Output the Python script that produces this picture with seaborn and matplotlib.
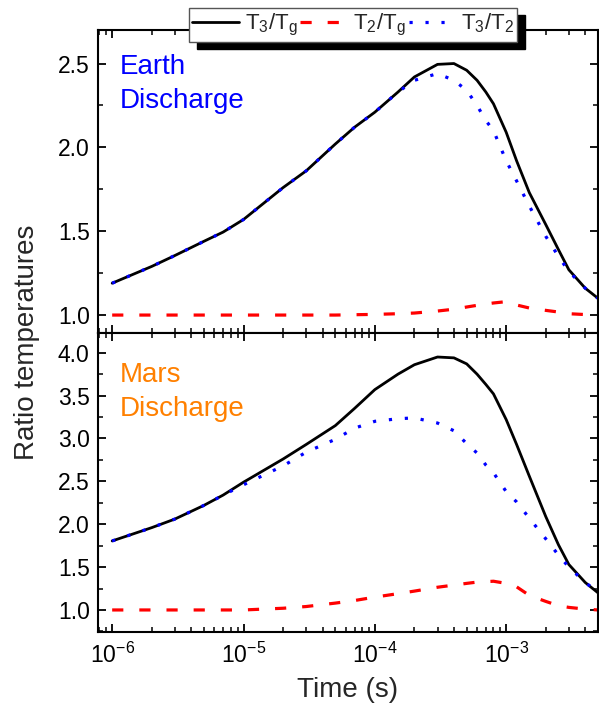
import numpy as np
import pandas as pd
import matplotlib
matplotlib.use('Agg')
import matplotlib.pyplot as plt
import seaborn as sns
from matplotlib.ticker import LogLocator, MultipleLocator, NullFormatter, FormatStrFormatter

# ---------------- data ----------------
time_s = [1e-6, 2e-6, 3e-6, 5e-6, 7e-6, 1e-5, 2e-5, 3e-5, 5e-5, 7e-5,
          1e-4, 1.5e-4, 2e-4, 3e-4, 4e-4, 5e-4, 6e-4, 7e-4, 8e-4, 1e-3,
          1.2e-3, 1.5e-3, 2e-3, 2.5e-3, 3e-3, 4e-3, 5e-3]

earth_t3_tg = [1.19, 1.29, 1.355, 1.44, 1.495, 1.57, 1.76, 1.86, 2.02, 2.12,
               2.21, 2.33, 2.42, 2.495, 2.50, 2.46, 2.40, 2.33, 2.26, 2.09,
               1.92, 1.73, 1.54, 1.39, 1.27, 1.16, 1.10]
earth_t2_tg = [1.0, 1.0, 1.0, 1.0, 1.0, 1.0, 1.0, 1.0, 1.0, 1.002,
               1.004, 1.008, 1.012, 1.024, 1.035, 1.048, 1.058, 1.066, 1.072, 1.08,
               1.06, 1.042, 1.028, 1.018, 1.008, 1.003, 1.0]
earth_t3_t2 = [1.19, 1.29, 1.355, 1.44, 1.495, 1.57, 1.76, 1.86, 2.02, 2.12,
               2.21, 2.33, 2.40, 2.44, 2.40, 2.34, 2.25, 2.16, 2.10, 1.92,
               1.80, 1.65, 1.47, 1.35, 1.26, 1.16, 1.10]

mars_t3_tg = [1.805, 1.96, 2.06, 2.22, 2.34, 2.49, 2.76, 2.93, 3.15, 3.35,
              3.57, 3.75, 3.86, 3.95, 3.94, 3.87, 3.75, 3.63, 3.52, 3.22,
              2.93, 2.56, 2.09, 1.76, 1.53, 1.32, 1.20]
mars_t2_tg = [1.0, 1.0, 1.0, 1.0, 1.0, 1.0, 1.02, 1.04, 1.08, 1.11,
              1.15, 1.19, 1.22, 1.265, 1.29, 1.31, 1.325, 1.33, 1.335, 1.31,
              1.27, 1.17, 1.10, 1.05, 1.03, 1.01, 1.0]
mars_t3_t2 = [1.805, 1.96, 2.06, 2.22, 2.34, 2.46, 2.68, 2.84, 2.99, 3.12,
              3.20, 3.23, 3.24, 3.18, 3.09, 2.94, 2.83, 2.69, 2.60, 2.38,
              2.26, 2.07, 1.83, 1.64, 1.50, 1.32, 1.21]

series_labels = ['T$_\\mathrm{3}$/T$_\\mathrm{g}$',
                 'T$_\\mathrm{2}$/T$_\\mathrm{g}$',
                 'T$_\\mathrm{3}$/T$_\\mathrm{2}$']
panel_texts = ['Earth\nDischarge', 'Mars\nDischarge']
panel_text_colors = ['#0000FF', '#FF8000']

# ---------------- style ----------------
sns.set_theme(style='ticks')
plt.rcParams.update({
    'font.family': ['Liberation Sans', 'DejaVu Sans'],
    'mathtext.fontset': 'custom',
    'mathtext.rm': 'Liberation Sans',
    'mathtext.it': 'Liberation Sans:italic',
    'mathtext.bf': 'Liberation Sans:bold',
    'axes.linewidth': 1.4,
    'axes.edgecolor': 'black',
    'xtick.direction': 'in',
    'ytick.direction': 'in',
    'xtick.top': True,
    'ytick.right': True,
    'xtick.color': 'black',
    'ytick.color': 'black',
})

fig = plt.figure(figsize=(5.99, 7.18), dpi=100)
W, H = 599, 718
ax1 = fig.add_axes([98 / W, (H - 333) / H, 500 / W, 303 / H])
ax2 = fig.add_axes([98 / W, (H - 632) / H, 500 / W, 299 / H], sharex=ax1)

df_earth = pd.DataFrame({'time': time_s, 't3tg': earth_t3_tg,
                         't2tg': earth_t2_tg, 't3t2': earth_t3_t2})
df_mars = pd.DataFrame({'time': time_s, 't3tg': mars_t3_tg,
                        't2tg': mars_t2_tg, 't3t2': mars_t3_t2})

styles = [
    ('t3tg', dict(color='black', linewidth=2.0, linestyle='-')),
    ('t2tg', dict(color='#FF0000', linewidth=2.3, linestyle=(0, (3.5, 5)))),
    ('t3t2', dict(color='#0000FF', linewidth=2.3, linestyle=(0, (1, 4)))),
]

for ax, df in [(ax1, df_earth), (ax2, df_mars)]:
    for (col, kw), lab in zip(styles, series_labels):
        sns.lineplot(data=df, x='time', y=col, ax=ax, label=lab,
                     errorbar=None, legend=False, **kw)
    if ax.get_legend() is not None:
        ax.get_legend().remove()
    ax.set_xscale('log')
    ax.set_xlim(7.8e-7, 5e-3)
    ax.set_xlabel('')
    ax.set_ylabel('')
    ax.xaxis.set_major_locator(LogLocator(base=10, numticks=12))
    ax.xaxis.set_minor_locator(LogLocator(base=10, subs=np.arange(2, 10), numticks=12))
    ax.xaxis.set_minor_formatter(NullFormatter())
    ax.yaxis.set_major_locator(MultipleLocator(0.5))
    ax.yaxis.set_minor_locator(MultipleLocator(0.25))
    ax.yaxis.set_major_formatter(FormatStrFormatter('%.1f'))
    ax.tick_params(which='major', length=6, width=1.3, labelsize=16.5, pad=6)
    ax.tick_params(which='minor', length=3.5, width=1.1)
    for s in ax.spines.values():
        s.set_linewidth(1.5)

ax1.set_ylim(0.893, 2.70)
ax2.set_ylim(0.743, 4.23)
ax1.tick_params(labelbottom=False)
ax2.tick_params(axis='x', pad=8)

# panel annotations
fig.text(120 / W, 1 - 54 / H, panel_texts[0], color=panel_text_colors[0],
         fontsize=20, ha='left', va='top', linespacing=1.38)
fig.text(120 / W, 1 - 362 / H, panel_texts[1], color=panel_text_colors[1],
         fontsize=20, ha='left', va='top', linespacing=1.38)

# axis labels
fig.text(27 / W, 1 - 342 / H, 'Ratio temperatures', rotation=90,
         ha='center', va='center', fontsize=20)
fig.text(348 / W, 1 - 690 / H, 'Time (s)', ha='center', va='center', fontsize=20)

# legend
handles = ax1.get_lines()[:3]
leg = fig.legend(handles, series_labels, loc='center',
                 bbox_to_anchor=(353 / W, 1 - 25 / H), ncol=3, fontsize=16,
                 frameon=True, fancybox=False, edgecolor='#555555', framealpha=1,
                 shadow={'ox': 6, 'oy': -5, 'color': 'black', 'alpha': 1},
                 handlelength=2.1, handletextpad=0.25, columnspacing=0.15,
                 borderpad=0.15, borderaxespad=0)
leg.get_frame().set_linewidth(1.0)

fig.savefig('out.png', dpi=100)
